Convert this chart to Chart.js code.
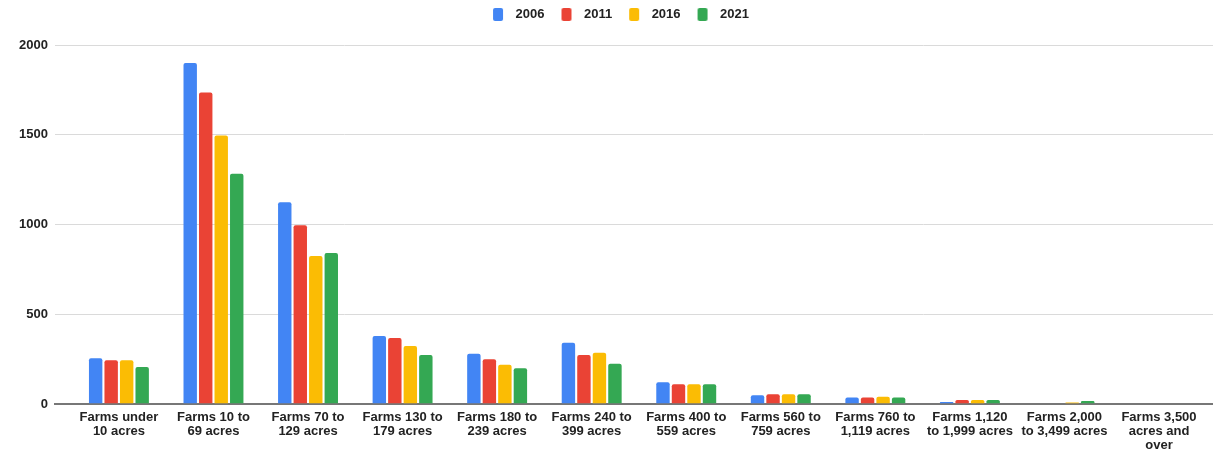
<!DOCTYPE html>
<html>
<head>
<meta charset="utf-8">
<script src="https://cdn.jsdelivr.net/npm/chart.js@4/dist/chart.umd.min.js"></script>
<style>
  html, body { margin: 0; padding: 0; background: #fff; }
  #wrap { width: 1213px; height: 451px; }
</style>
</head>
<body>
<div id="wrap"><canvas id="farmChart"></canvas></div>
<script>
// Categorias (tamanho das fazendas)
const categorias = [
  ['Farms under', '10 acres'],
  ['Farms 10 to', '69 acres'],
  ['Farms 70 to', '129 acres'],
  ['Farms 130 to', '179 acres'],
  ['Farms 180 to', '239 acres'],
  ['Farms 240 to', '399 acres'],
  ['Farms 400 to', '559 acres'],
  ['Farms 560 to', '759 acres'],
  ['Farms 760 to', '1,119 acres'],
  ['Farms 1,120', 'to 1,999 acres'],
  ['Farms 2,000', 'to 3,499 acres'],
  ['Farms 3,500', 'acres and', 'over']
];

// Valores por ano do censo
const anos = ['2006', '2011', '2016', '2021'];
const dados2006 = [256, 1900, 1124, 380, 281, 343, 122, 50, 37, 13, 0, 0];
const dados2011 = [245, 1736, 996, 369, 250, 274, 111, 56, 37, 24, 0, 0];
const dados2016 = [245, 1496, 825, 324, 220, 287, 111, 56, 42, 24, 10, 0];
const dados2021 = [207, 1283, 842, 274, 200, 226, 111, 56, 37, 24, 18, 0];

const cores = ['#4285F4', '#EA4335', '#FBBC04', '#34A853'];
const yTicks = [0, 500, 1000, 1500, 2000];

const series = [dados2006, dados2011, dados2016, dados2021];
const fonte = 'Arial, "Liberation Sans", sans-serif';

// quadradinho da legenda, com folga antes e depois
function marcador(cor) {
  const c = document.createElement('canvas');
  c.width = 25;
  c.height = 13;
  const g = c.getContext('2d');
  g.fillStyle = cor;
  g.beginPath();
  g.roundRect(9, 0, 10, 13, 2);
  g.fill();
  return c;
}

// espaço extra abaixo da legenda e margens laterais das categorias
const ajusteLayout = {
  id: 'ajusteLayout',
  afterInit(chart) {
    const fitOriginal = chart.legend.fit;
    chart.legend.fit = function () {
      fitOriginal.call(this);
      this.height += 14;
    };
  },
  afterLayout(chart) {
    chart.legend.left += 4;
    chart.legend.right += 4;

    const s = chart.scales.x;
    const margemEsq = 64, margemDir = 54;
    const w = (s.width - margemEsq - margemDir) / (s.max - s.min);
    s._startValue = s.min - margemEsq / w;
    s._valueRange = s.width / w;
  }
};

const ctx = document.getElementById('farmChart').getContext('2d');
new Chart(ctx, {
  type: 'bar',
  data: {
    labels: categorias,
    datasets: series.map((valores, i) => ({
      label: anos[i],
      data: valores,
      backgroundColor: cores[i],
      pointStyle: marcador(cores[i]),
      borderRadius: { topLeft: 2, topRight: 2 },
      borderSkipped: 'bottom',
      categoryPercentage: 0.656,
      barPercentage: 0.865
    }))
  },
  plugins: [ajusteLayout],
  options: {
    responsive: true,
    maintainAspectRatio: false,
    animation: false,
    layout: { padding: { left: 12, right: 0, top: 0, bottom: -7 } },
    plugins: {
      legend: {
        position: 'top',
        labels: {
          usePointStyle: true,
          pointStyleWidth: 25,
          boxHeight: 13,
          padding: 8,
          color: '#222',
          font: { family: fonte, size: 13, weight: 'bold' }
        }
      },
      tooltip: { enabled: false }
    },
    scales: {
      x: {
        grid: { display: false, drawTicks: false },
        border: { color: '#777', width: 2 },
        ticks: {
          color: '#222',
          maxRotation: 0,
          autoSkip: false,
          padding: 6,
          font: { family: fonte, size: 13, weight: 'bold', lineHeight: 1.07 }
        }
      },
      y: {
        min: 0,
        max: 2000,
        afterBuildTicks: axis => { axis.ticks = yTicks.map(v => ({ value: v })); },
        border: { display: false },
        grid: {
          color: c => c.tick.value === 0 ? '#777' : '#dadada',
          lineWidth: c => c.tick.value === 0 ? 2 : 1,
          drawTicks: false
        },
        ticks: {
          color: '#222',
          padding: 7,
          callback: v => String(v),
          font: { family: fonte, size: 13, weight: 'bold' }
        }
      }
    }
  }
});
</script>
</body>
</html>
